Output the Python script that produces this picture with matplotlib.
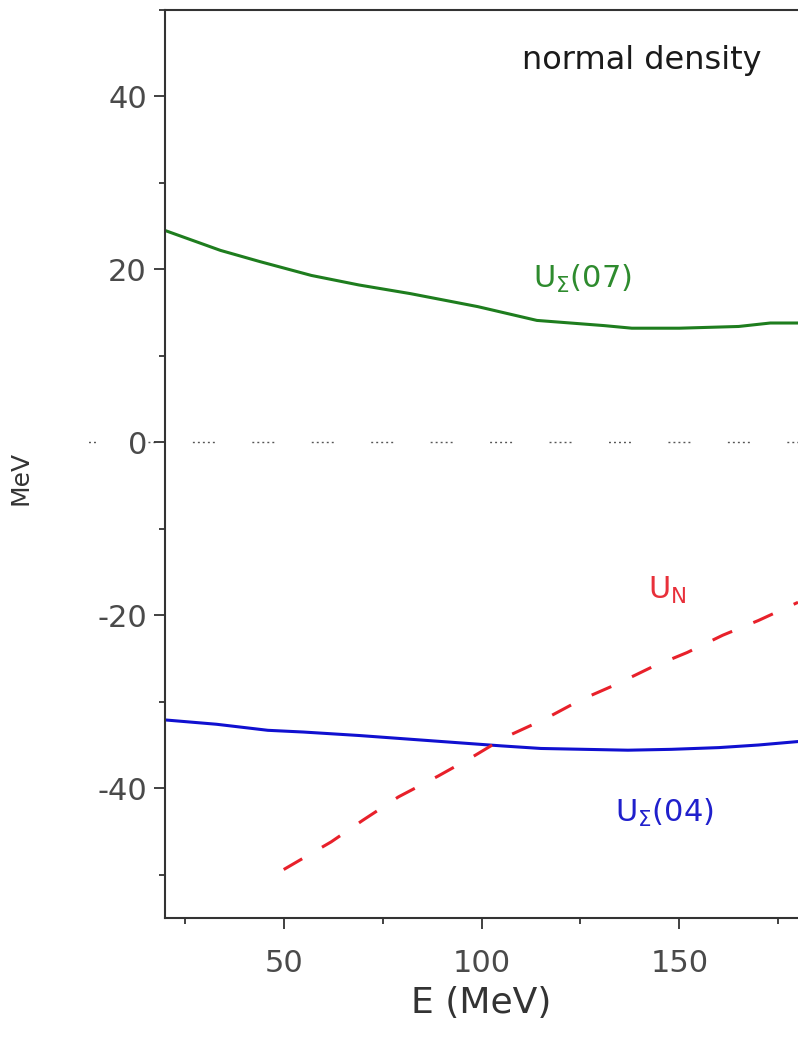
import matplotlib
matplotlib.use("Agg")
import matplotlib.pyplot as plt
from matplotlib.ticker import MultipleLocator

plt.rcParams['font.family'] = ['DejaVu Sans']
plt.rcParams['mathtext.default'] = 'regular'
plt.rcParams['axes.unicode_minus'] = False

# Sigma potential, 2007 parametrisation
e_sig07 = [20, 34, 44, 57, 69, 82, 99, 114, 131, 138, 150, 165, 173, 180]
u_sig07 = [24.5, 22.2, 20.9, 19.3, 18.2, 17.2, 15.7, 14.1, 13.5, 13.2, 13.2, 13.4, 13.8, 13.8]

# Sigma potential, 2004 parametrisation
e_sig04 = [20, 33, 46, 55, 69, 84, 105, 115, 126, 137, 148, 160, 170, 180]
u_sig04 = [-32.1, -32.6, -33.3, -33.5, -33.9, -34.4, -35.1, -35.4, -35.5, -35.6, -35.5, -35.3, -35.0, -34.6]

# nucleon potential
e_nuc = [50, 62, 70, 79, 89, 98, 106, 116, 125, 134, 143, 152, 161, 170, 180]
u_nuc = [-49.4, -46.2, -43.7, -41.0, -38.6, -36.3, -34.1, -32.0, -29.8, -28.0, -26.0, -24.3, -22.3, -20.6, -18.5]

e_zero = [0, 180]
u_zero = [0, 0]

fig = plt.figure(figsize=(7.98, 10.39), dpi=100)
ax = fig.add_axes([0.2068, 0.1165, 0.7932, 0.8739])

ax.plot(e_zero, u_zero, color='#555555', lw=1.0,
        linestyle=(9, (1.4, 2.2, 1.4, 2.2, 1.4, 2.2, 1.4, 2.2, 1.4, 27)),
        clip_on=False, zorder=1)
ax.plot(e_sig07, u_sig07, color='#1e7d1e', lw=2.2)
ax.plot(e_sig04, u_sig04, color='#1010d0', lw=2.2)
ax.plot(e_nuc, u_nuc, color='#e8202a', lw=2.2, linestyle=(0, (7, 7.5)))

ax.text(113, 18.9, r'U$_\Sigma$(07)', color='#2e8b2e', fontsize=22, va='center', ha='left')
ax.text(142, -17.1, r'U$_N$', color='#e8303a', fontsize=22, va='center', ha='left')
ax.text(133.8, -42.9, r'U$_\Sigma$(04)', color='#2020cc', fontsize=22, va='center', ha='left')
ax.text(110.2, 44.1, 'normal density', color='#1a1a1a', fontsize=23, va='center', ha='left')

ax.set_xlim(20, 180)
ax.set_ylim(-55, 50)
ax.xaxis.set_major_locator(MultipleLocator(50))
ax.xaxis.set_minor_locator(MultipleLocator(25))
ax.yaxis.set_major_locator(MultipleLocator(20))
ax.yaxis.set_minor_locator(MultipleLocator(10))

for side in ['left', 'bottom', 'top']:
    ax.spines[side].set_color('#333333')
    ax.spines[side].set_linewidth(1.5)
ax.spines['right'].set_visible(False)

ax.tick_params(which='major', length=8, width=1.3, color='#333333',
               labelsize=22, labelcolor='#4a4a4a', pad=5)
ax.tick_params(axis='x', which='major', pad=14)
ax.tick_params(which='minor', length=4, width=1.3, color='#333333')
for lbl in ax.get_yticklabels():
    lbl.set_bbox(dict(facecolor='white', edgecolor='none', pad=1))

ax.set_xlabel('E (MeV)', fontsize=26, color='#333333', labelpad=6)
ax.set_ylabel('MeV', fontsize=18, color='#333333')
ax.yaxis.set_label_coords(-0.209, 0.485)

fig.savefig('out.png', dpi=100)
